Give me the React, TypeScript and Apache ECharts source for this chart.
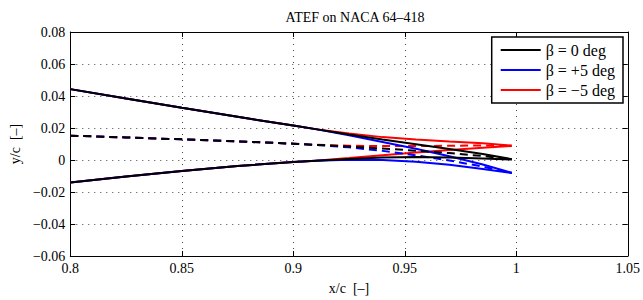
import React, { useEffect, useRef } from "react";
import * as echarts from "echarts";

const xs = [0.8, 0.825, 0.85, 0.875, 0.9, 0.91, 0.925, 0.94, 0.955, 0.97, 0.985, 0.998];

const blackUpper = [0.0443, 0.0384, 0.0326, 0.027, 0.0215, 0.0193, 0.016, 0.0128, 0.0099, 0.0069, 0.0038, 0.0005];
const blackLower = [-0.014, -0.0103, -0.0069, -0.0038, -0.0012, -0.0004, 0.0007, 0.0015, 0.0018, 0.0016, 0.001, 0.0003];
const blackCamber = [0.0152, 0.0141, 0.0129, 0.0116, 0.0102, 0.0095, 0.0084, 0.0072, 0.0058, 0.0043, 0.0025, 0.0004];

const blueUpper = [0.0443, 0.0384, 0.0326, 0.027, 0.0215, 0.0193, 0.0155, 0.0113, 0.007, 0.0023, -0.0028, -0.008];
const blueLower = [-0.014, -0.0103, -0.0069, -0.0038, -0.0012, -0.0004, 0.0002, 0.0, -0.0011, -0.003, -0.0056, -0.0082];
const blueCamber = [0.0152, 0.0141, 0.0129, 0.0116, 0.0102, 0.0095, 0.0079, 0.0057, 0.0029, -0.0003, -0.0041, -0.0081];

const redUpper = [0.0443, 0.0384, 0.0326, 0.027, 0.0215, 0.0193, 0.0165, 0.0143, 0.0128, 0.0115, 0.0104, 0.009];
const redLower = [-0.014, -0.0103, -0.0069, -0.0038, -0.0012, -0.0004, 0.0012, 0.003, 0.0047, 0.0062, 0.0076, 0.0088];
const redCamber = [0.0152, 0.0141, 0.0129, 0.0116, 0.0102, 0.0095, 0.0089, 0.0087, 0.0087, 0.0089, 0.0091, 0.0089];

const names = ["β = 0 deg", "β = +5 deg", "β = −5 deg"];
const colors = ["#000000", "#0000ff", "#ff0000"];

const xTicks = { min: 0.8, max: 1.05, interval: 0.05 };
const yTicks = { min: -0.06, max: 0.08, interval: 0.02 };

const FONT = "'Times New Roman', 'Liberation Serif', Times, serif";

function pts(ys: number[]) {
  return xs.map((x, i) => [x, ys[i]]);
}

export default function App() {
  const ref = useRef<HTMLDivElement>(null);
  useEffect(() => {
    if (!ref.current) return;
    const chart = echarts.init(ref.current, undefined, { renderer: "svg" });
    const groups = [
      { name: names[2], color: colors[2], u: redUpper, l: redLower, c: redCamber },
      { name: names[1], color: colors[1], u: blueUpper, l: blueLower, c: blueCamber },
      { name: names[0], color: colors[0], u: blackUpper, l: blackLower, c: blackCamber },
    ];
    const series: any[] = [];
    groups.forEach((g) => {
      [g.u, g.l].forEach((arr) => {
        series.push({
          type: "line",
          name: g.name,
          data: pts(arr),
          showSymbol: false,
          symbol: "none",
          color: g.color,
          lineStyle: { color: g.color, width: 2 },
          xAxisIndex: 0,
          yAxisIndex: 0,
        });
      });
      series.push({
        type: "line",
        name: g.name,
        data: pts(g.c),
        showSymbol: false,
        symbol: "none",
        color: g.color,
        lineStyle: { color: g.color, width: 2, type: [8, 5] },
        xAxisIndex: 0,
        yAxisIndex: 0,
      });
    });
    const fmt = (v: number) => String(v).replace("-", "\u2212");
    const gridLine = { show: true, lineStyle: { color: "#444", width: 1, type: [1, 5] } };
    const axisLine = { show: true, onZero: false, lineStyle: { color: "#000", width: 1 } };
    const tick = { show: true, inside: true, length: 5, lineStyle: { color: "#000" } };
    chart.setOption({
      animation: false,
      backgroundColor: "#fff",
      title: {
        text: "ATEF on NACA 64–418",
        left: 350,
        textAlign: "center",
        top: 5,
        textStyle: { fontFamily: FONT, fontSize: 14, fontWeight: "normal", color: "#000" },
      },
      legend: {
        data: names,
        orient: "vertical",
        right: 20,
        top: 37,
        backgroundColor: "#fff",
        borderColor: "#000",
        borderWidth: 1.5,
        padding: [5, 8, 5, 9],
        itemGap: 4,
        itemWidth: 40,
        itemHeight: 2,
        icon: "rect",
        textStyle: { fontFamily: FONT, fontSize: 16, color: "#000" },
      },
      grid: { left: 70, right: 13, top: 32, bottom: 41, containLabel: false },
      xAxis: [
        {
          type: "value",
          ...xTicks,
          position: "bottom",
          name: "x/c  [–]",
          nameLocation: "middle",
          nameGap: 25,
          nameTextStyle: { fontFamily: FONT, fontSize: 14, color: "#000" },
          axisLine,
          axisTick: tick,
          axisLabel: { fontFamily: FONT, fontSize: 14, color: "#000", margin: 5, formatter: fmt },
          splitLine: gridLine,
        },
        {
          type: "value",
          ...xTicks,
          position: "top",
          axisLine,
          axisTick: tick,
          axisLabel: { show: false },
          splitLine: { show: false },
        },
      ],
      yAxis: [
        {
          type: "value",
          ...yTicks,
          position: "left",
          name: "y/c  [–]",
          nameLocation: "middle",
          nameGap: 48,
          nameRotate: 90,
          nameTextStyle: { fontFamily: FONT, fontSize: 14, color: "#000" },
          axisLine,
          axisTick: tick,
          axisLabel: { fontFamily: FONT, fontSize: 14, color: "#000", margin: 5, formatter: fmt },
          splitLine: gridLine,
        },
        {
          type: "value",
          ...yTicks,
          position: "right",
          axisLine,
          axisTick: tick,
          axisLabel: { show: false },
          splitLine: { show: false },
        },
      ],
      series,
    });
    return () => chart.dispose();
  }, []);
  return (
    <div
      ref={ref}
      style={{ position: "fixed", left: 0, top: 0, width: 643, height: 300, background: "#fff" }}
    />
  );
}
